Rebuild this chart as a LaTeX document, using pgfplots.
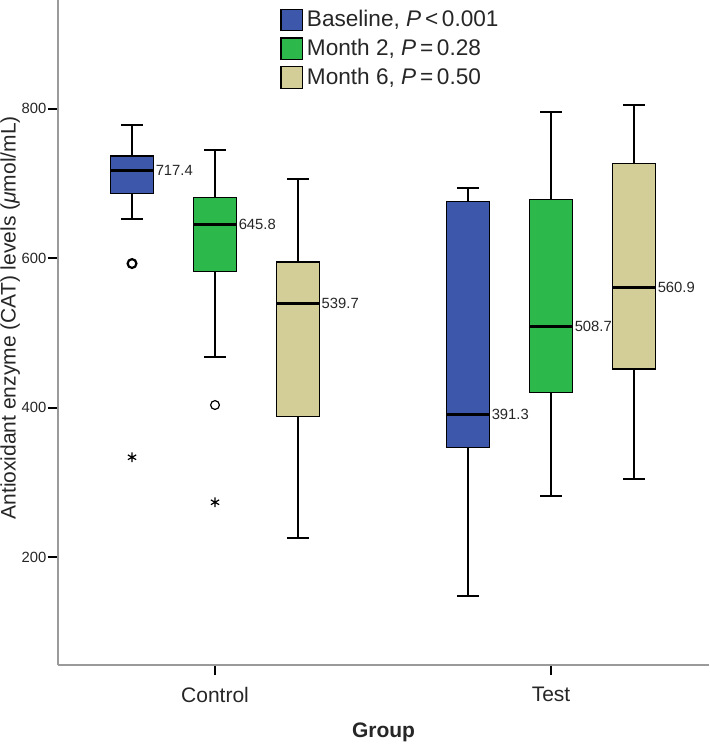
\documentclass[border=0pt]{standalone}
\usepackage{fontspec}
\setmainfont{Liberation Sans}
\usepackage{pgfplots}
\pgfplotsset{compat=1.18}

\definecolor{spssblue}{HTML}{3D57AA}
\definecolor{spssgreen}{HTML}{2DB84C}
\definecolor{spssbeige}{HTML}{D3CE98}
\definecolor{axisgray}{HTML}{9A9A9A}
\newcommand{\fs}[1]{\fontsize{#1}{#1}\selectfont}
\tikzset{medlab/.style={anchor=west, inner sep=1pt, font=\fs{7.4}, text=black!85}}
\pgfplotsset{
    box/.style={draw=black, line width=0.6pt, forget plot},
    whisk/.style={black, line width=1pt, unbounded coords=jump, forget plot},
    med/.style={black, line width=1.5pt, forget plot},
}

\begin{document}
\begin{tikzpicture}
\begin{axis}[
    scale only axis, width=325.5pt, height=332.5pt,
    xmin=-0.4673, xmax=1.4702, ymin=55.9, ymax=945.6,
    axis x line*=bottom, axis y line*=left,
    axis line style={draw=axisgray, line width=1pt},
    tick align=outside, major tick length=5pt,
    tick style={black, line width=1pt},
    ytick={200,400,600,800},
    xtick={0,1}, xticklabels={Control,Test},
    xticklabel style={font=\fs{10.5}, text=black!85, yshift=-2.5pt},
    yticklabel style={font=\fs{7.4}, text=black!85, inner sep=0.6pt},
    /pgf/number format/assume math mode=true,
    ylabel={Antioxidant enzyme (CAT) levels (\textit{μ}mol/mL)},
    ylabel style={font=\fs{10.5}, text=black!85, at={(axis description cs:-0.0891,0.522)}, anchor=north, inner sep=0pt},
    xlabel={Group},
    xlabel style={font=\fs{10.5}\bfseries, text=black!85, at={(axis description cs:0.5,0)}, anchor=center, yshift=-33.9pt},
    legend style={at={(axis description cs:0.3317,0.997)}, anchor=north west, draw=none, fill=none,
        font=\fs{11.3}, text=black!85, row sep=0.65pt},
    legend cell align=left,
]
\addlegendimage{legend image code/.code={\draw[black,line width=0.6pt,fill=spssblue] (0pt,-5.4pt) rectangle (10.7pt,5.4pt);}}
\addlegendentry{Baseline, \textit{P}\,<\,0.001}
\addlegendimage{legend image code/.code={\draw[black,line width=0.6pt,fill=spssgreen] (0pt,-5.4pt) rectangle (10.7pt,5.4pt);}}
\addlegendentry{Month 2, \textit{P}\,=\,0.28}
\addlegendimage{legend image code/.code={\draw[black,line width=0.6pt,fill=spssbeige] (0pt,-5.4pt) rectangle (10.7pt,5.4pt);}}
\addlegendentry{Month 6, \textit{P}\,=\,0.50}

% Control, baseline (x=-0.247)
\addplot[whisk] coordinates {(-0.247,736.9) (-0.247,777.9) (-0.247,nan) (-0.279,777.9) (-0.215,777.9) (-0.247,nan)
    (-0.247,687.0) (-0.247,652.6) (-0.247,nan) (-0.279,652.6) (-0.215,652.6)};
\addplot[box, fill=spssblue] coordinates {(-0.3105,687.0) (-0.1835,687.0) (-0.1835,736.9) (-0.3105,736.9)} -- cycle;
\addplot[med] coordinates {(-0.3105,717.4) (-0.1835,717.4)};
% Control, month 2 (x=0)
\addplot[whisk] coordinates {(0,681.0) (0,745.3) (0,nan) (-0.032,745.3) (0.032,745.3) (0,nan)
    (0,582.1) (0,468.0) (0,nan) (-0.032,468.0) (0.032,468.0)};
\addplot[box, fill=spssgreen] coordinates {(-0.0635,582.1) (0.0635,582.1) (0.0635,681.0) (-0.0635,681.0)} -- cycle;
\addplot[med] coordinates {(-0.0635,645.8) (0.0635,645.8)};
% Control, month 6 (x=0.247)
\addplot[whisk] coordinates {(0.247,595.0) (0.247,706.5) (0.247,nan) (0.215,706.5) (0.279,706.5) (0.247,nan)
    (0.247,388.1) (0.247,225.4) (0.247,nan) (0.215,225.4) (0.279,225.4)};
\addplot[box, fill=spssbeige] coordinates {(0.1835,388.1) (0.3105,388.1) (0.3105,595.0) (0.1835,595.0)} -- cycle;
\addplot[med] coordinates {(0.1835,539.7) (0.3105,539.7)};
% Test, baseline (x=0.753)
\addplot[whisk] coordinates {(0.753,675.7) (0.753,693.6) (0.753,nan) (0.721,693.6) (0.785,693.6) (0.753,nan)
    (0.753,347.2) (0.753,148.2) (0.753,nan) (0.721,148.2) (0.785,148.2)};
\addplot[box, fill=spssblue] coordinates {(0.6895,347.2) (0.8165,347.2) (0.8165,675.7) (0.6895,675.7)} -- cycle;
\addplot[med] coordinates {(0.6895,391.3) (0.8165,391.3)};
% Test, month 2 (x=1)
\addplot[whisk] coordinates {(1,679.0) (1,796.1) (1,nan) (0.968,796.1) (1.032,796.1) (1,nan)
    (1,420.7) (1,282.0) (1,nan) (0.968,282.0) (1.032,282.0)};
\addplot[box, fill=spssgreen] coordinates {(0.9365,420.7) (1.0635,420.7) (1.0635,679.0) (0.9365,679.0)} -- cycle;
\addplot[med] coordinates {(0.9365,508.7) (1.0635,508.7)};
% Test, month 6 (x=1.247)
\addplot[whisk] coordinates {(1.247,726.6) (1.247,805.1) (1.247,nan) (1.215,805.1) (1.279,805.1) (1.247,nan)
    (1.247,451.9) (1.247,304.3) (1.247,nan) (1.215,304.3) (1.279,304.3)};
\addplot[box, fill=spssbeige] coordinates {(1.1835,451.9) (1.3105,451.9) (1.3105,726.6) (1.1835,726.6)} -- cycle;
\addplot[med] coordinates {(1.1835,560.9) (1.3105,560.9)};

% outliers
\addplot[only marks, mark=o, mark size=2.2pt, line width=1.1pt, black, forget plot]
    coordinates {(-0.247,593)};
\addplot[only marks, mark=o, mark size=2.2pt, line width=0.6pt, black, forget plot]
    coordinates {(0,403.7)};
\addplot[only marks, mark=asterisk, mark size=2.4pt, line width=0.6pt, black, forget plot]
    coordinates {(-0.247,333.8) (0,273.6)};

% median labels
\node[medlab] at (axis cs:-0.1835,717.4) {717.4};
\node[medlab] at (axis cs:0.0635,645.8) {645.8};
\node[medlab] at (axis cs:0.3105,539.7) {539.7};
\node[medlab] at (axis cs:0.8165,391.3) {391.3};
\node[medlab] at (axis cs:1.0635,508.7) {508.7};
\node[medlab] at (axis cs:1.3105,560.9) {560.9};

\coordinate (SW) at (rel axis cs:0,0);
\coordinate (NE) at (rel axis cs:1,1);
\end{axis}
\pgfresetboundingbox
\path ([xshift=-29pt,yshift=-40.5pt]SW) rectangle (NE);
\end{tikzpicture}
\end{document}
